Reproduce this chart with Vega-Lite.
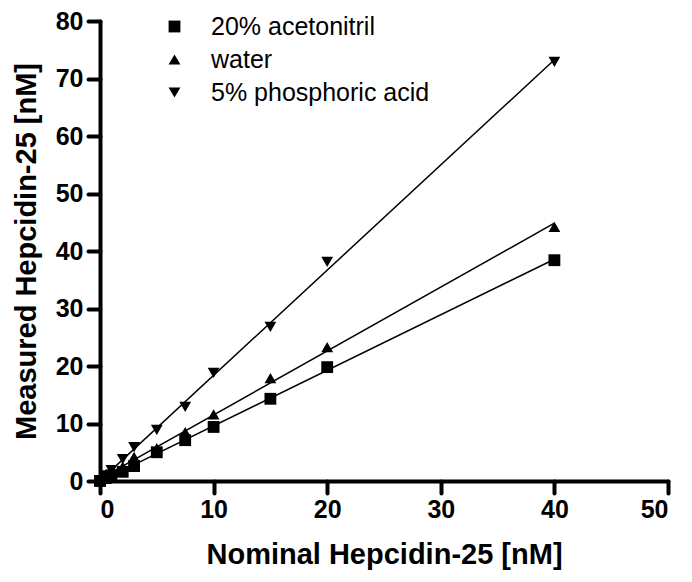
{
  "$schema": "https://vega.github.io/schema/vega-lite/v6.json",
  "width": 568,
  "height": 460,
  "autosize": {"type": "none"},
  "padding": {"left": 100, "top": 21, "right": 24, "bottom": 101},
  "background": "white",
  "config": {
    "view": {"stroke": null},
    "font": "Liberation Sans",
    "axis": {
      "grid": false,
      "domainColor": "black",
      "domainWidth": 4,
      "domainCap": "round",
      "tickColor": "black",
      "tickWidth": 4,
      "tickCap": "round",
      "tickSize": 12,
      "labelFont": "Liberation Sans",
      "labelFontWeight": "bold",
      "labelFontSize": 25,
      "labelColor": "black",
      "titleFont": "Liberation Sans",
      "titleFontWeight": "bold",
      "titleFontSize": 29,
      "titleColor": "black"
    }
  },
  "data": {
    "values": [
      {"series": "20% acetonitril", "x": 0, "y": 0},
      {"series": "20% acetonitril", "x": 0.5, "y": 0.5},
      {"series": "20% acetonitril", "x": 1, "y": 1.0},
      {"series": "20% acetonitril", "x": 2, "y": 1.6},
      {"series": "20% acetonitril", "x": 3, "y": 2.6},
      {"series": "20% acetonitril", "x": 5, "y": 5.0},
      {"series": "20% acetonitril", "x": 7.5, "y": 7.1},
      {"series": "20% acetonitril", "x": 10, "y": 9.4},
      {"series": "20% acetonitril", "x": 15, "y": 14.3},
      {"series": "20% acetonitril", "x": 20, "y": 19.8},
      {"series": "20% acetonitril", "x": 40, "y": 38.4},
      {"series": "water", "x": 0, "y": 0},
      {"series": "water", "x": 0.5, "y": 0.6},
      {"series": "water", "x": 1, "y": 1.3},
      {"series": "water", "x": 2, "y": 2.5},
      {"series": "water", "x": 3, "y": 4.2},
      {"series": "water", "x": 5, "y": 5.7},
      {"series": "water", "x": 7.5, "y": 8.5},
      {"series": "water", "x": 10, "y": 11.6},
      {"series": "water", "x": 15, "y": 17.9},
      {"series": "water", "x": 20, "y": 23.3},
      {"series": "water", "x": 40, "y": 44.2},
      {"series": "5% phosphoric acid", "x": 0, "y": 0.1},
      {"series": "5% phosphoric acid", "x": 0.5, "y": 1.0},
      {"series": "5% phosphoric acid", "x": 1, "y": 1.9},
      {"series": "5% phosphoric acid", "x": 2, "y": 3.8},
      {"series": "5% phosphoric acid", "x": 3, "y": 5.9},
      {"series": "5% phosphoric acid", "x": 5, "y": 8.9},
      {"series": "5% phosphoric acid", "x": 7.5, "y": 12.9},
      {"series": "5% phosphoric acid", "x": 10, "y": 18.8},
      {"series": "5% phosphoric acid", "x": 15, "y": 26.8},
      {"series": "5% phosphoric acid", "x": 20, "y": 38.1},
      {"series": "5% phosphoric acid", "x": 40, "y": 72.9}
    ]
  },
  "layer": [
    {
      "transform": [
        {"regression": "y", "on": "x", "groupby": ["series"]}
      ],
      "mark": {"type": "line", "color": "black", "strokeWidth": 1.5},
      "encoding": {
        "x": {"field": "x", "type": "quantitative", "scale": {"domain": [0, 50]}},
        "y": {"field": "y", "type": "quantitative", "scale": {"domain": [0, 80]}},
        "detail": {"field": "series"}
      }
    },
    {
      "mark": {"type": "point", "filled": true, "color": "black", "opacity": 1, "size": 140},
      "encoding": {
        "x": {
          "field": "x", "type": "quantitative",
          "scale": {"domain": [0, 50], "nice": false},
          "axis": {"values": [0, 10, 20, 30, 40, 50], "title": "Nominal Hepcidin-25 [nM]", "labelPadding": 4, "titlePadding": 18}
        },
        "y": {
          "field": "y", "type": "quantitative",
          "scale": {"domain": [0, 80], "nice": false},
          "axis": {"values": [0, 10, 20, 30, 40, 50, 60, 70, 80], "title": "Measured Hepcidin-25 [nM]", "labelPadding": 5, "titlePadding": 14}
        },
        "shape": {
          "field": "series", "type": "nominal",
          "scale": {
            "domain": ["20% acetonitril", "water", "5% phosphoric acid"],
            "range": ["square", "triangle-up", "triangle-down"]
          },
          "legend": {
            "title": null,
            "orient": "none",
            "legendX": 62,
            "legendY": -7,
            "padding": 0,
            "symbolFillColor": "black",
            "symbolStrokeColor": "black",
            "symbolSize": 140,
            "labelFont": "Liberation Sans",
            "labelFontSize": 25,
            "labelLimit": 400,
            "labelColor": "black",
            "labelOffset": 24,
            "rowPadding": 7
          }
        }
      }
    }
  ]
}
